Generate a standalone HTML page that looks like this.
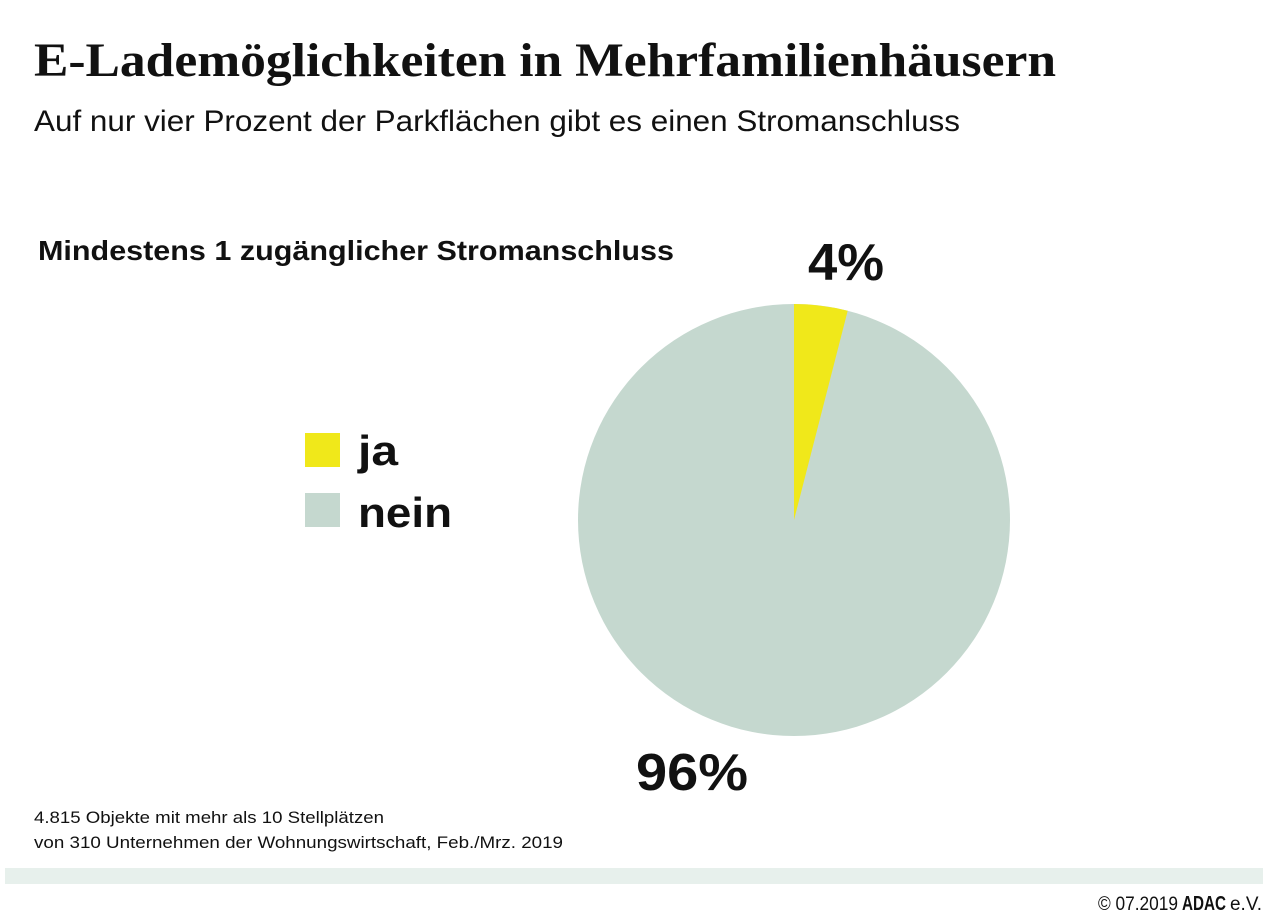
<!DOCTYPE html>
<html><head><meta charset="utf-8"><style>html,body{margin:0;padding:0;background:#fff}svg{display:block}</style></head>
<body>
<svg width="1280" height="924" viewBox="0 0 1280 924" xmlns="http://www.w3.org/2000/svg">
<rect width="1280" height="924" fill="#fff"/>
<text x="34" y="76" font-family="Liberation Serif, serif" font-weight="bold" font-size="48" fill="#111" textLength="1022" lengthAdjust="spacingAndGlyphs">E-Lademöglichkeiten in Mehrfamilienhäusern</text>
<text x="34" y="131" font-family="Liberation Sans, sans-serif" font-size="30" fill="#111" textLength="926" lengthAdjust="spacingAndGlyphs">Auf nur vier Prozent der Parkflächen gibt es einen Stromanschluss</text>
<text x="38" y="260" font-family="Liberation Sans, sans-serif" font-weight="bold" font-size="28" fill="#111" textLength="636" lengthAdjust="spacingAndGlyphs">Mindestens 1 zugänglicher Stromanschluss</text>
<circle cx="794" cy="520" r="216" fill="#c5d8cf"/>
<path d="M794,520 L794,304 A216,216 0 0 1 847.7,310.8 Z" fill="#f0e81a"/>
<text x="808" y="280" font-family="Liberation Sans, sans-serif" font-weight="bold" font-size="52" fill="#111" textLength="76" lengthAdjust="spacingAndGlyphs">4%</text>
<text x="636" y="790" font-family="Liberation Sans, sans-serif" font-weight="bold" font-size="52" fill="#111" textLength="112" lengthAdjust="spacingAndGlyphs">96%</text>
<rect x="305" y="433" width="35" height="34" fill="#f0e81a"/>
<rect x="305" y="493" width="35" height="34" fill="#c5d8cf"/>
<text x="358" y="465" font-family="Liberation Sans, sans-serif" font-weight="bold" font-size="42" fill="#111" textLength="40" lengthAdjust="spacingAndGlyphs">ja</text>
<text x="358" y="527" font-family="Liberation Sans, sans-serif" font-weight="bold" font-size="42" fill="#111" textLength="94" lengthAdjust="spacingAndGlyphs">nein</text>
<text x="34" y="823" font-family="Liberation Sans, sans-serif" font-size="17" fill="#111" textLength="350" lengthAdjust="spacingAndGlyphs">4.815 Objekte mit mehr als 10 Stellplätzen</text>
<text x="34" y="848" font-family="Liberation Sans, sans-serif" font-size="17" fill="#111" textLength="529" lengthAdjust="spacingAndGlyphs">von 310 Unternehmen der Wohnungswirtschaft, Feb./Mrz. 2019</text>
<rect x="5" y="868" width="1258" height="16" fill="#e7f0ec"/>
<text x="1098" y="910" font-family="Liberation Sans, sans-serif" font-size="19" fill="#111" textLength="80" lengthAdjust="spacingAndGlyphs">© 07.2019</text>
<text x="1182" y="910" font-family="Liberation Sans, sans-serif" font-weight="bold" font-size="20" fill="#111" textLength="44" lengthAdjust="spacingAndGlyphs">ADAC</text>
<text x="1230" y="910" font-family="Liberation Sans, sans-serif" font-size="19" fill="#111" textLength="32" lengthAdjust="spacingAndGlyphs">e.V.</text>
</svg>
</body></html>
